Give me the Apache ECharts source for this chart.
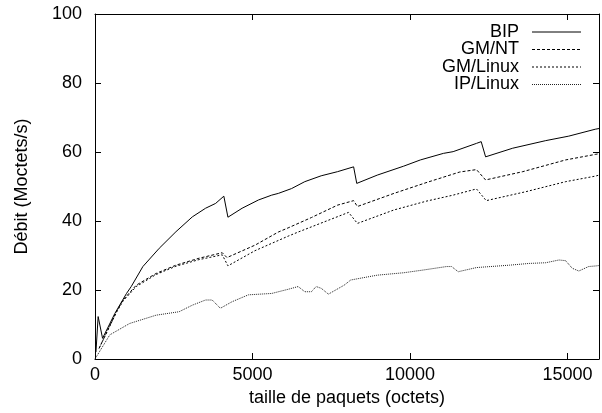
<!DOCTYPE html>
<html>
<head>
<meta charset="utf-8">
<script src="https://cdn.jsdelivr.net/npm/echarts@6/dist/echarts.min.js"></script>
<style>html,body{margin:0;padding:0;background:#fff}#c{width:602px;height:413px}</style>
</head>
<body>
<div id="c"></div>
<script>
// Data
const seriesNames = ['BIP', 'GM/NT', 'GM/Linux', 'IP/Linux'];

const bipX = [30, 100, 240, 630, 1000, 1150, 1520, 2040, 2570, 3090, 3510, 3830, 4090, 4220, 4670, 5190, 5610, 5820, 6240, 6660, 7180, 7700, 8210, 8310, 8960, 9800, 10330, 11060, 11370, 12110, 12260, 12400, 13260, 14310, 15040, 15880, 16000];
const bipY = [2.0, 12.3, 6.0, 13.2, 19.0, 21.0, 26.8, 32.1, 36.9, 41.2, 43.7, 45.1, 47.2, 41.1, 43.7, 46.1, 47.5, 48.0, 49.4, 51.4, 53.1, 54.3, 55.7, 50.9, 53.3, 55.9, 57.7, 59.6, 60.1, 62.5, 63.0, 58.6, 61.1, 63.3, 64.6, 66.6, 66.8];

const gmntX = [130, 680, 890, 1310, 1940, 2570, 3300, 4040, 4190, 5080, 5820, 6130, 6870, 7700, 8210, 8330, 9490, 10540, 11370, 11580, 12110, 12400, 13580, 14940, 15880, 16000];
const gmntY = [3.1, 13.7, 17.1, 21.4, 24.8, 27.2, 29.2, 30.8, 29.4, 33.0, 36.8, 38.0, 41.0, 44.6, 45.9, 44.2, 48.0, 51.2, 53.6, 54.2, 54.9, 51.9, 54.3, 57.7, 59.3, 59.5];

const gmlinX = [130, 680, 890, 1310, 1940, 2570, 3300, 4040, 4220, 5080, 6130, 6450, 8050, 8330, 9490, 10540, 11370, 12110, 12420, 13680, 14940, 15880, 16000];
const gmlinY = [3.1, 13.5, 16.8, 21.0, 24.5, 26.9, 28.8, 30.2, 27.0, 31.4, 35.6, 36.8, 42.5, 39.3, 43.2, 45.8, 47.5, 49.3, 45.9, 48.5, 51.4, 53.0, 53.3];

const iplinX = [0, 470, 1100, 1940, 2670, 3090, 3510, 3720, 3980, 4350, 4870, 5610, 6130, 6450, 6660, 6870, 7020, 7180, 7410, 7910, 8120, 8960, 9800, 10430, 11160, 11320, 11530, 12110, 13160, 13780, 14310, 14730, 14940, 15150, 15360, 15670, 15930, 16000];
const iplinY = [0, 7.0, 10.3, 12.7, 13.7, 15.6, 17.1, 17.1, 14.7, 16.6, 18.6, 19.0, 20.2, 21.0, 19.5, 19.5, 21.0, 20.5, 18.8, 21.4, 22.9, 24.3, 25.0, 25.8, 26.8, 26.8, 25.3, 26.5, 27.2, 27.7, 27.9, 28.7, 28.5, 26.3, 25.5, 26.8, 27.0, 27.1];

const xTicks = [0, 5000, 10000, 15000];
const yTicks = [0, 20, 40, 60, 80, 100];

function pairs(xs, ys) { return xs.map((x, i) => [x, ys[i]]); }

const FONT = '"Liberation Sans", Arial, Helvetica, sans-serif';
const chart = echarts.init(document.getElementById('c'), null, { renderer: 'canvas' });

const lineAxis = { show: true, onZero: false, lineStyle: { color: '#000', width: 1 } };
const tickStyle = { color: '#000', width: 1 };

const styles = [
  { type: 'solid', color: '#000' },
  { type: [3, 2], color: '#000' },
  { type: [2, 2], color: '#000' },
  { type: [1, 1], color: '#222' }
];
const datasets = [pairs(bipX, bipY), pairs(gmntX, gmntY), pairs(gmlinX, gmlinY), pairs(iplinX, iplinY)];

// Key drawn as graphic elements: text right-aligned, sample line to the right
const keyRowsY = [32, 49.5, 67, 84.5];
const keyGraphics = [];
seriesNames.forEach((name, i) => {
  keyGraphics.push({
    type: 'text', x: 519, y: keyRowsY[i],
    style: { text: name, fontSize: 18, fontFamily: FONT, fill: '#000', align: 'right', verticalAlign: 'middle' }
  });
  keyGraphics.push({
    type: 'line', x: 0, y: 0,
    shape: { x1: 532, y1: keyRowsY[i], x2: 581, y2: keyRowsY[i] },
    style: { stroke: styles[i].color, lineWidth: 1, lineDash: styles[i].type === 'solid' ? null : styles[i].type }
  });
});

const xLabelFmt = v => (xTicks.indexOf(v) >= 0 ? String(v) : '');
const yLabelFmt = v => (yTicks.indexOf(v) >= 0 ? String(v) : '');

chart.setOption({
  animation: false,
  backgroundColor: '#fff',
  textStyle: { fontFamily: FONT },
  grid: { left: 95, top: 14, width: 509, height: 345, containLabel: false },
  graphic: keyGraphics,
  xAxis: [
    {
      type: 'value', min: 0, max: 16000, interval: 5000, position: 'bottom',
      name: 'taille de paquets (octets)', nameLocation: 'middle', nameGap: 24,
      nameTextStyle: { fontSize: 18, color: '#000', fontFamily: FONT },
      axisLine: lineAxis, splitLine: { show: false },
      axisLabel: { fontSize: 18, color: '#000', margin: 7, fontFamily: FONT, formatter: xLabelFmt },
      axisTick: { show: true, inside: true, length: 6, lineStyle: tickStyle }
    },
    {
      type: 'value', min: 0, max: 16000, interval: 5000, position: 'top',
      axisLine: lineAxis, splitLine: { show: false },
      axisLabel: { show: false },
      axisTick: { show: true, inside: true, length: 6, lineStyle: tickStyle }
    }
  ],
  yAxis: [
    {
      type: 'value', min: 0, max: 100, interval: 20, position: 'left',
      name: 'Débit (Moctets/s)', nameLocation: 'middle', nameGap: 64, nameRotate: 90,
      nameTextStyle: { fontSize: 18, color: '#000', fontFamily: FONT },
      axisLine: lineAxis, splitLine: { show: false },
      axisLabel: { fontSize: 18, color: '#000', margin: 13, fontFamily: FONT, formatter: yLabelFmt },
      axisTick: { show: true, inside: true, length: 6, lineStyle: tickStyle }
    },
    {
      type: 'value', min: 0, max: 100, interval: 20, position: 'right',
      axisLine: lineAxis, splitLine: { show: false },
      axisLabel: { show: false },
      axisTick: { show: true, inside: true, length: 6, lineStyle: tickStyle }
    }
  ],
  series: seriesNames.map((name, i) => ({
    name: name,
    type: 'line',
    xAxisIndex: 0,
    yAxisIndex: 0,
    data: datasets[i],
    symbol: 'none',
    showSymbol: false,
    smooth: false,
    color: styles[i].color,
    lineStyle: { width: 1, type: styles[i].type, color: styles[i].color },
    z: 10 - i
  }))
});
</script>
</body>
</html>
